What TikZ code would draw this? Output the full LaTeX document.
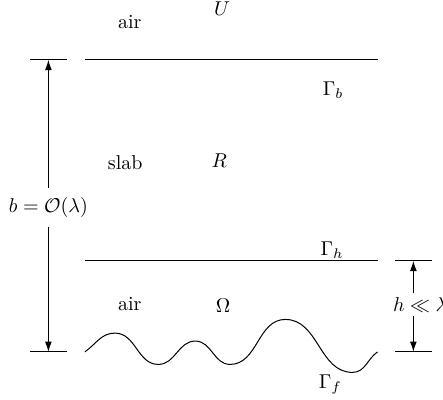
\documentclass[tikz,border=0pt]{standalone}
\usepackage{amsmath,amssymb}
\usepackage{tikz}
\usetikzlibrary{arrows.meta, calc}

\begin{document}
\begin{tikzpicture}[
        every node/.style={align=center},
        region/.style={inner sep=0pt},
        bdry/.style={inner sep=0pt},
        dimlab/.style={inner xsep=1pt},
        surf/.style={line width=0.5pt, black},
        tick/.style={line width=0.5pt, black},
        arr/.style={-{Latex[length=1.8mm,width=1.2mm]}, line width=0.5pt, black}
    ]
    \useasboundingbox (0,0) rectangle (7.78,7.01);
    % surfaces
    \coordinate (bl) at (1.49,5.96);
    \coordinate (br) at (6.63,5.96);
    \coordinate (hl) at (1.49,2.43);
    \coordinate (hr) at (6.63,2.43);
    \coordinate (fl) at (1.49,0.83);
    \coordinate (fr) at (6.63,0.83);
    \draw[surf] (bl) -- (br);
    \draw[surf] (hl) -- (hr);
    \draw[surf] (fl) to[out=35,in=180] (2.02,1.16)
        to[out=0,in=180] (2.78,0.61)
        to[out=0,in=180] (3.43,1.02)
        to[out=0,in=180] (4.04,0.61)
        to[out=0,in=180] (5.01,1.40)
        to[out=0,in=180] (6.19,0.47)
        to[out=0,in=215] (fr);
    % ticks
    \coordinate (btop) at (0.85,5.96);
    \coordinate (bbot) at (0.85,0.83);
    \coordinate (htop) at (7.26,2.43);
    \coordinate (hbot) at (7.26,0.83);
    \draw[tick] ($(btop)+(-0.32,0)$) -- ($(btop)+(0.33,0)$);
    \draw[tick] ($(bbot)+(-0.32,0)$) -- ($(bbot)+(0.33,0)$);
    \draw[tick] ($(htop)+(-0.32,0)$) -- ($(htop)+(0.33,0)$);
    \draw[tick] ($(hbot)+(-0.32,0)$) -- ($(hbot)+(0.33,0)$);
    % labels
    \node[region] (air1) at (2.28,6.62) {air};
    \node[region] (U) at (3.90,6.85) {$U$};
    \node[bdry] (Gb) at (5.85,5.43) {$\Gamma_b$};
    \node[region] (slab) at (2.20,4.15) {slab};
    \node[region] (R) at (3.85,4.18) {$R$};
    \node[bdry] (Gh) at (5.83,2.62) {$\Gamma_h$};
    \node[region] (air2) at (2.28,1.67) {air};
    \node[region] (Om) at (3.92,1.65) {$\Omega$};
    \node[bdry] (Gf) at (5.80,0.25) {$\Gamma_f$};
    % dimensions
    \node[dimlab, inner ysep=4.5pt] (blab) at (0.85,3.37) {$b=\mathcal{O}(\lambda)$};
    \node[dimlab, inner ysep=1.8pt] (hlab) at (7.38,1.66) {$h\ll\lambda$};
    \draw[arr] (blab) -- (btop);
    \draw[arr] (blab) -- (bbot);
    \draw[arr] (hlab.north -| htop) -- (htop);
    \draw[arr] (hlab.south -| hbot) -- (hbot);
\end{tikzpicture}
\end{document}
